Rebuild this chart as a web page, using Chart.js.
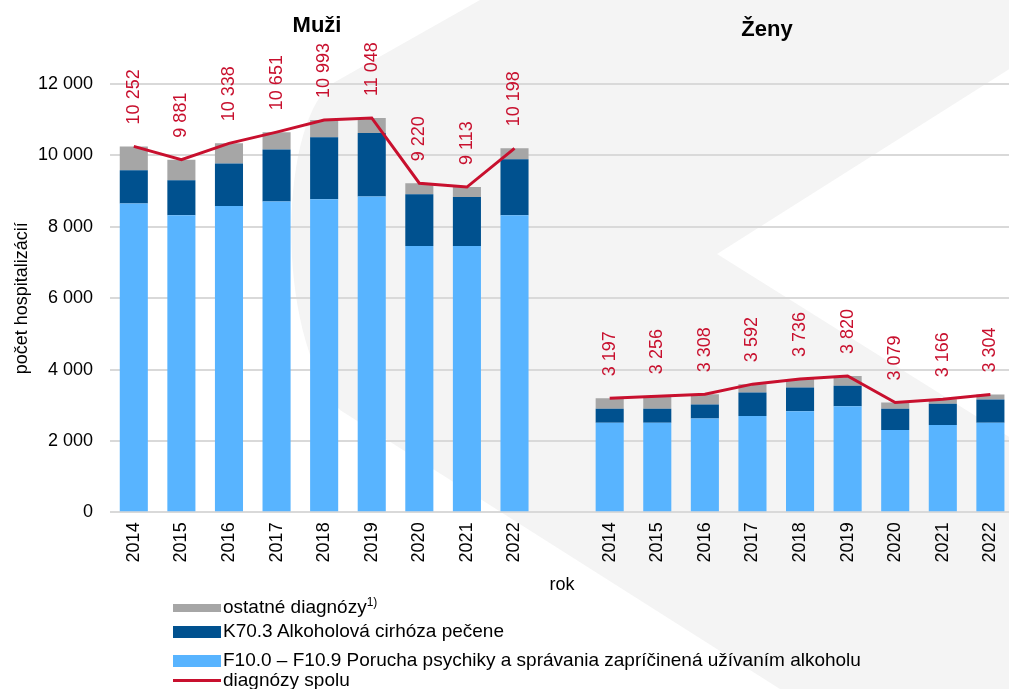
<!DOCTYPE html>
<html lang="sk">
<head>
<meta charset="utf-8">
<script src="https://cdn.jsdelivr.net/npm/chart.js@4/dist/chart.umd.min.js"></script>
<style>
  body { margin: 0; background: #fff; font-family: "Liberation Sans", Arial, sans-serif; overflow: hidden; }
  #wrap { position: relative; width: 1009px; height: 689px; overflow: hidden; }
  #chart { position: absolute; left: 0; top: 0; }
  .grp { position: absolute; font-weight: bold; font-size: 22px; color: #000; transform: translateX(-50%); white-space: nowrap; }
  .lg { position: absolute; left: 173px; font-size: 19px; line-height: 20px; color: #000; white-space: nowrap; }
  .lg i { display: inline-block; width: 48px; vertical-align: middle; margin-right: 2px; }
  .lg sup { font-size: 12px; line-height: 0; }
</style>
</head>
<body>
<div id="wrap">
  <canvas id="chart" width="1022" height="689"></canvas>
  <div class="grp" style="left:317px; top:12px;">Muži</div>
  <div class="grp" style="left:767px; top:16px;">Ženy</div>
  <div class="lg" style="top:597px;"><i style="height:8px;background:#a6a6a6"></i>ostatné diagnózy<sup>1)</sup></div>
  <div class="lg" style="top:621px;"><i style="height:12px;background:#00518f"></i>K70.3 Alkoholová cirhóza pečene</div>
  <div class="lg" style="top:650px;"><i style="height:12px;background:#58b4ff"></i>F10.0 – F10.9 Porucha psychiky a správania zapríčinená užívaním alkoholu</div>
  <div class="lg" style="top:670px;"><i style="height:3px;background:#c8102e"></i>diagnózy spolu</div>
</div>
<script>
// ── Data ─────────────────────────────────────────────────────────
const years = ['2014', '2015', '2016', '2017', '2018', '2019', '2020', '2021', '2022'];

const menF10   = [8650, 8320, 8580, 8710, 8770, 8850, 7460, 7460, 8320];
const menK70   = [935, 985, 1190, 1455, 1735, 1780, 1450, 1375, 1575];
const menOther = [667, 576, 568, 486, 488, 418, 310, 278, 303];
const menTotal = [10252, 9881, 10338, 10651, 10993, 11048, 9220, 9113, 10198];

const womenF10   = [2510, 2510, 2630, 2700, 2830, 2970, 2305, 2445, 2510];
const womenK70   = [395, 395, 395, 655, 665, 580, 600, 600, 655];
const womenOther = [292, 351, 283, 237, 241, 270, 174, 121, 139];
const womenTotal = [3197, 3256, 3308, 3592, 3736, 3820, 3079, 3166, 3304];

const yTicks = [0, 2000, 4000, 6000, 8000, 10000, 12000];

// one empty category separates the two groups
const labels = [...years, '', ...years];
const join = (a, b) => [...a, null, ...b];

const RED = '#c8102e';
const fmt = v => String(v).replace(/\B(?=(\d{3})+(?!\d))/g, ' ');

// ── Plugins ──────────────────────────────────────────────────────
const backdrop = {
  id: 'backdrop',
  beforeDraw(chart) {
    const { ctx, width, height } = chart;
    ctx.save();
    ctx.fillStyle = '#fff';
    ctx.fillRect(0, 0, width, height);
    // faint chevron watermark
    ctx.fillStyle = '#f4f4f4';
    ctx.beginPath();
    ctx.moveTo(480, 0);
    ctx.lineTo(335, 82);
    ctx.bezierCurveTo(280, 115, 272, 330, 340, 410);
    ctx.lineTo(780, 689);
    ctx.lineTo(width, height);
    ctx.lineTo(width, 445);
    ctx.lineTo(717, 254);
    ctx.lineTo(width, 61);
    ctx.lineTo(width, 0);
    ctx.closePath();
    ctx.fill();
    ctx.restore();
  }
};

const totalLabels = {
  id: 'totalLabels',
  afterDatasetsDraw(chart) {
    const idx = chart.data.datasets.findIndex(d => d.type === 'line');
    const meta = chart.getDatasetMeta(idx);
    const values = chart.data.datasets[idx].data;
    const { ctx } = chart;
    ctx.save();
    ctx.fillStyle = RED;
    ctx.font = '18px "Liberation Sans", Arial, sans-serif';
    ctx.textAlign = 'left';
    ctx.textBaseline = 'middle';
    meta.data.forEach((pt, i) => {
      if (values[i] == null) return;
      ctx.save();
      ctx.translate(pt.x, pt.y - 22);
      ctx.rotate(-Math.PI / 2);
      ctx.fillText(fmt(values[i]), 0, 0);
      ctx.restore();
    });
    ctx.restore();
  }
};

// ── Chart ────────────────────────────────────────────────────────
Chart.defaults.font.family = '"Liberation Sans", Arial, sans-serif';
Chart.defaults.color = '#000';

new Chart(document.getElementById('chart'), {
  data: {
    labels,
    datasets: [
      {
        type: 'line',
        label: 'diagnózy spolu',
        data: join(menTotal, womenTotal),
        borderColor: RED,
        borderWidth: 3,
        pointRadius: 0,
        spanGaps: false,
        stack: 'total',
        order: 0
      },
      { type: 'bar', label: 'F10.0 – F10.9', data: join(menF10, womenF10), backgroundColor: '#58b4ff', stack: 'bars', order: 1 },
      { type: 'bar', label: 'K70.3', data: join(menK70, womenK70), backgroundColor: '#00518f', stack: 'bars', order: 1 },
      { type: 'bar', label: 'ostatné diagnózy', data: join(menOther, womenOther), backgroundColor: '#a6a6a6', stack: 'bars', order: 1 }
    ]
  },
  options: {
    responsive: false,
    animation: false,
    layout: { padding: { left: 11, right: 0, top: 84, bottom: 93 } },
    datasets: { bar: { categoryPercentage: 1, barPercentage: 0.59 } },
    plugins: { legend: { display: false }, tooltip: { enabled: false } },
    scales: {
      x: {
        stacked: true,
        grid: { display: false, drawTicks: false },
        border: { display: false },
        ticks: { autoSkip: false, minRotation: 90, maxRotation: 90, padding: 10, font: { size: 18 } },
        title: { display: true, text: 'rok', font: { size: 18 }, padding: { top: 2, bottom: 0 } }
      },
      y: {
        stacked: true,
        min: 0,
        max: 12000,
        afterBuildTicks: axis => { axis.ticks = yTicks.map(v => ({ value: v })); },
        afterFit: axis => { axis.width = 99; },
        grid: { color: '#d9d9d9', lineWidth: 2, drawTicks: false },
        border: { display: false },
        ticks: { padding: 17, font: { size: 18 }, callback: v => fmt(v) },
        title: { display: true, text: 'počet hospitalizácií', font: { size: 18 }, padding: { top: 0, bottom: 4 } }
      }
    }
  },
  plugins: [backdrop, totalLabels]
});
</script>
</body>
</html>
